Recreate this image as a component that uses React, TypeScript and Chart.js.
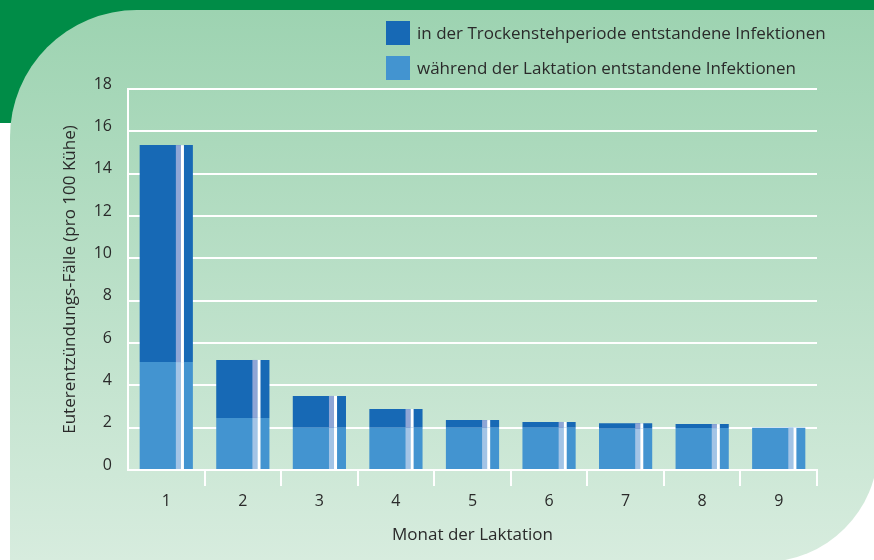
import React, { useEffect, useRef } from 'react';
import { Chart, registerables } from 'chart.js';

Chart.register(...registerables);

// ---- Data ----
const months = ['1', '2', '3', '4', '5', '6', '7', '8', '9'];
const lactationCases = [5.1, 2.46, 2.0, 2.0, 2.0, 2.0, 1.95, 1.98, 2.0];
const dryPeriodCases = [10.25, 2.74, 1.5, 0.88, 0.36, 0.27, 0.26, 0.19, 0];
const lactationLabel = 'während der Laktation entstandene Infektionen';
const dryPeriodLabel = 'in der Trockenstehperiode entstandene Infektionen';
const yTitle = 'Euterentzündungs-Fälle (pro 100 Kühe)';
const xTitle = 'Monat der Laktation';
const yMin = 0;
const yMax = 18;
const yStep = 2;

// ---- Styles ----
const FONT = "'Open Sans', 'Noto Sans', sans-serif";
const TEXT = '#2a2a2a';
const DARK_BLUE = '#1769b5';
const LIGHT_BLUE = '#4394d0';
const STRIPE = ['#a3c4e6', '#8fa6d6'];
const W = 874;
const H = 560;

const backgroundPlugin = {
  id: 'panelBackground',
  beforeDraw(chart: any) {
    const ctx = chart.ctx;
    ctx.save();
    ctx.fillStyle = '#ffffff';
    ctx.fillRect(0, 0, W, H);
    ctx.fillStyle = '#008c47';
    ctx.fillRect(0, 0, W, 123);
    const L = 10, T = 10, R = 878, B = 562, r1 = 127, r2 = 114;
    ctx.beginPath();
    ctx.moveTo(L + r1, T);
    ctx.lineTo(R, T);
    ctx.lineTo(R, B - r2);
    ctx.arc(R - r2, B - r2, r2, 0, Math.PI / 2);
    ctx.lineTo(L, B);
    ctx.lineTo(L, T + r1);
    ctx.arc(L + r1, T + r1, r1, Math.PI, 1.5 * Math.PI);
    ctx.closePath();
    const g = ctx.createLinearGradient(0, T, 0, H);
    g.addColorStop(0, '#9dd3b1');
    g.addColorStop(1, '#d7ecde');
    ctx.fillStyle = g;
    ctx.fill();
    ctx.restore();
  },
};

const stripePlugin = {
  id: 'barStripes',
  afterDatasetsDraw(chart: any) {
    const ctx = chart.ctx;
    ctx.save();
    chart.data.datasets.forEach((_ds: any, di: number) => {
      const meta = chart.getDatasetMeta(di);
      meta.data.forEach((el: any) => {
        const { x, y, base, width } = el.getProps(['x', 'y', 'base', 'width'], true);
        const top = Math.min(y, base);
        const h = Math.abs(base - y);
        if (h < 0.5) return;
        const left = x - width / 2;
        ctx.fillStyle = STRIPE[di];
        ctx.fillRect(left + width * 0.68, top, width * 0.095, h);
        ctx.fillStyle = '#ffffff';
        ctx.fillRect(left + width * 0.775, top, width * 0.057, h);
      });
    });
    ctx.restore();
  },
};

const legendPlugin = {
  id: 'customLegend',
  afterDraw(chart: any) {
    const ctx = chart.ctx;
    const items = [chart.data.datasets[1], chart.data.datasets[0]];
    ctx.save();
    ctx.font = `17px ${FONT}`;
    ctx.textBaseline = 'middle';
    ctx.textAlign = 'left';
    items.forEach((ds: any, i: number) => {
      const top = 21 + i * 35;
      ctx.fillStyle = ds.backgroundColor;
      ctx.fillRect(386, top, 24, 24);
      ctx.fillStyle = TEXT;
      ctx.fillText(ds.label, 417, top + 13);
    });
    ctx.restore();
  },
};

export default function App() {
  const ref = useRef<HTMLCanvasElement>(null);

  useEffect(() => {
    document.body.style.margin = '0';
    const canvas = ref.current;
    if (!canvas) return;
    const chart = new Chart(canvas, {
      type: 'bar',
      data: {
        labels: months,
        datasets: [
          {
            label: lactationLabel,
            data: lactationCases,
            backgroundColor: LIGHT_BLUE,
            borderWidth: 0,
            categoryPercentage: 1,
            barPercentage: 0.695,
          },
          {
            label: dryPeriodLabel,
            data: dryPeriodCases,
            backgroundColor: DARK_BLUE,
            borderWidth: 0,
            categoryPercentage: 1,
            barPercentage: 0.695,
          },
        ],
      },
      options: {
        responsive: false,
        animation: false,
        devicePixelRatio: 1,
        layout: { padding: { top: 89, right: 57, left: 0, bottom: 0 } },
        plugins: {
          legend: { display: false },
          tooltip: { enabled: false },
        },
        scales: {
          x: {
            stacked: true,
            grid: {
              display: true,
              drawOnChartArea: false,
              drawTicks: true,
              tickLength: 16,
              offset: true,
              lineWidth: 2,
              color: (c: any) => (c.index === 0 ? 'rgba(0,0,0,0)' : '#ffffff'),
            },
            border: { display: true, color: '#ffffff', width: 2 },
            ticks: { color: TEXT, font: { family: FONT, size: 16 }, padding: 6 },
            title: {
              display: true,
              text: xTitle,
              color: TEXT,
              font: { family: FONT, size: 17 },
              padding: { top: 0, bottom: 15 },
            },
            afterFit: (s: any) => {
              s.height = 90;
            },
          },
          y: {
            stacked: true,
            min: yMin,
            max: yMax,
            ticks: {
              stepSize: yStep,
              color: TEXT,
              font: { family: FONT, size: 16 },
              padding: 16,
              labelOffset: -5,
            },
            grid: { color: '#ffffff', lineWidth: 2, drawTicks: false },
            border: { display: true, color: '#ffffff', width: 2 },
            title: {
              display: true,
              text: yTitle,
              color: TEXT,
              font: { family: FONT, size: 17 },
              padding: { top: 60, bottom: 0 },
            },
            afterFit: (s: any) => {
              s.width = 128;
            },
          },
        },
      },
      plugins: [backgroundPlugin, stripePlugin, legendPlugin],
    });
    return () => chart.destroy();
  }, []);

  return (
    <div style={{ width: W, height: H, position: 'absolute', left: 0, top: 0 }}>
      <canvas ref={ref} width={W} height={H} style={{ display: 'block' }} />
    </div>
  );
}
